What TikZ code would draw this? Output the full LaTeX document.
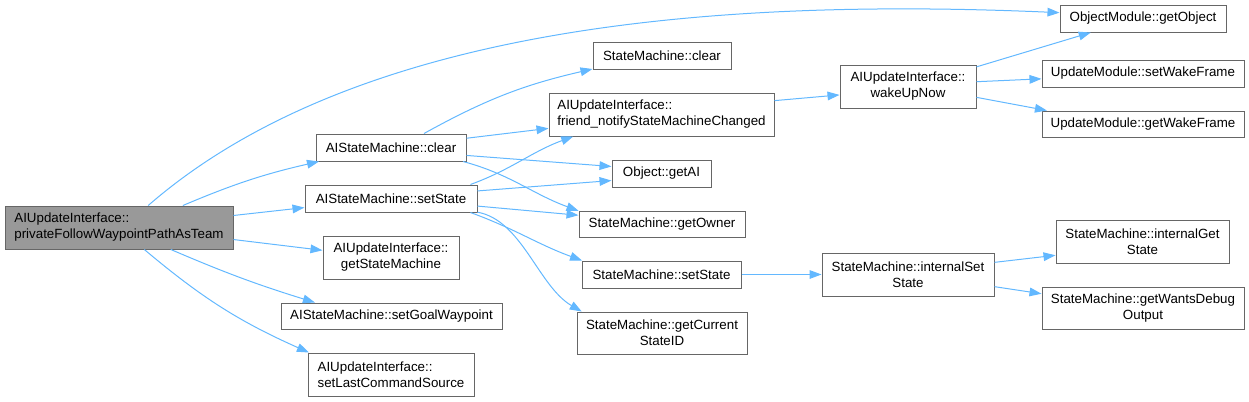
\documentclass[tikz,border=0pt]{standalone}
\usepackage{fontspec}
\setmainfont{Liberation Sans}
\usetikzlibrary{arrows.meta}

\definecolor{edgeblue}{HTML}{63B8FF}
\definecolor{boxline}{HTML}{666666}
\definecolor{rootfill}{HTML}{999999}

\tikzset{
  fn/.style={draw=boxline,line width=0.75pt,fill=white,inner sep=0pt,
    font=\fontsize{10}{12}\selectfont,align=center,minimum height=20.25pt},
  fn2/.style={fn,minimum height=32.25pt},
  call/.style={draw=edgeblue,line width=0.75pt,-{Triangle[length=9pt,width=6.5pt]}}
}

\begin{document}
\begin{tikzpicture}[x=0.75pt,y=0.75pt]
  \useasboundingbox (0,0) rectangle (1249,-401);

  % caller
  \node[fn2,fill=rootfill,align=left,minimum width=171pt] (root) at (119,-227.5)
    {AIUpdateInterface::\\privateFollowWaypointPathAsTeam};

  % first level
  \node[fn,minimum width=112.5pt] (asmclear) at (391,-147.5) {AIStateMachine::clear};
  \node[fn,minimum width=129pt] (asmset) at (391,-198.5) {AIStateMachine::setState};
  \node[fn2,minimum width=102pt] (getsm) at (391,-257.5) {AIUpdateInterface::\\getStateMachine};
  \node[fn,minimum width=165.75pt,minimum height=19.5pt] (setgoal) at (391.5,-316) {AIStateMachine::setGoalWaypoint};
  \node[fn2,align=left,minimum width=124.5pt] (setlast) at (391,-374.5) {AIUpdateInterface::\\setLastCommandSource};

  % second level
  \node[fn,minimum width=103.5pt] (smclear) at (662,-55.5) {StateMachine::clear};
  \node[fn2,align=left,minimum width=168.75pt] (friend) at (661.5,-114.5) {AIUpdateInterface::\\friend\_notifyStateMachineChanged};
  \node[fn,minimum width=74.25pt] (getai) at (661.5,-173.5) {Object::getAI};
  \node[fn,minimum width=124.5pt,minimum height=19.5pt] (getowner) at (662,-224) {StateMachine::getOwner};
  \node[fn,minimum width=119.25pt] (smset) at (661.5,-274.5) {StateMachine::setState};
  \node[fn,minimum width=127.5pt,minimum height=31.5pt] (getcur) at (662,-333) {StateMachine::getCurrent\\StateID};

  % third level
  \node[fn2,minimum width=102pt] (wakeup) at (908,-86.5) {AIUpdateInterface::\\wakeUpNow};
  \node[fn2,minimum width=129pt] (intset) at (908,-274.5) {StateMachine::internalSet\\State};

  % last level
  \node[fn,minimum width=124.5pt] (getobj) at (1143,-18.5) {ObjectModule::getObject};
  \node[fn,minimum width=151.5pt] (setwake) at (1143,-73.5) {UpdateModule::setWakeFrame};
  \node[fn,minimum width=151.5pt,minimum height=19.5pt] (getwake) at (1143,-124) {UpdateModule::getWakeFrame};
  \node[fn2,minimum width=129.75pt] (intget) at (1142.5,-241.5) {StateMachine::internalGet\\State};
  \node[fn,minimum width=151.5pt,minimum height=31.5pt] (debug) at (1143,-308) {StateMachine::getWantsDebug\\Output};

  % calls from the caller
  \draw[call] (root.37) .. controls (350,-30) and (700,3) .. (getobj.176);
  \draw[call] (root.19) to[bend left=5] (asmclear.191);
  \draw[call] (root.6) -- (asmset.186);
  \draw[call] (root.354) -- (getsm.174);
  \draw[call] (root.337) to[bend right=3] (setgoal.170);
  \draw[call] (root.319) to[bend right=8] (setlast.165);

  % AIStateMachine::clear
  \draw[call] (asmclear.23) to[bend left=8] (smclear.191);
  \draw[call] (asmclear.7) -- (friend.187);
  \draw[call] (asmclear.354) -- (getai.172);
  \draw[call] (asmclear.349) to[out=-15,in=160] (getowner.171);

  % AIStateMachine::setState
  \draw[call] (asmset.10) to[out=20,in=-160] (friend.194);
  \draw[call] (asmset.5) -- (getai.188);
  \draw[call] (asmset.355) -- (getowner.174);
  \draw[call] (asmset.350) to[out=-20,in=160] (smset.170);
  \draw[call] (asmset.351) .. controls +(-10:45) and +(150:50) .. (getcur.165);

  % further down
  \draw[call] (friend.7) -- (wakeup.187);
  \draw[call] (wakeup.16) -- (getobj.195);
  \draw[call] (wakeup.4) -- (setwake.183);
  \draw[call] (wakeup.351) -- (getwake.172);
  \draw[call] (smset) -- (intset);
  \draw[call] (intset.8) -- (intget.189);
  \draw[call] (intset.352) -- (debug.172);
\end{tikzpicture}
\end{document}
